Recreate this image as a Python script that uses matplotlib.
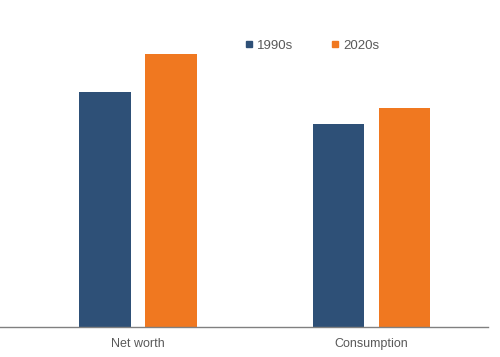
import matplotlib.pyplot as plt
from matplotlib.lines import Line2D
import numpy as np

plt.rcParams["font.family"] = ["Liberation Sans", "DejaVu Sans"]

# values (arbitrary units, no y axis shown)
categories = ["Net worth", "Consumption"]
series_names = ["1990s", "2020s"]
values_1990s = [235, 203]
values_2020s = [273, 219]
colors = ["#2E5077", "#F07820"]

fig = plt.figure(figsize=(5, 3.57), dpi=100)
ax = fig.add_axes([0.0, 30 / 357, 488 / 500, 300 / 357])

x = np.arange(len(categories))
offset = 0.141
width = 0.222
ax.bar(x - offset, values_1990s, width, color=colors[0], label=series_names[0])
ax.bar(x + offset, values_2020s, width, color=colors[1], label=series_names[1])

ax.set_xlim(-0.588, 1.498)
ax.set_ylim(0, 300)
ax.set_xticks(x)
ax.set_xticklabels(categories, fontsize=9, color="#595959")
ax.tick_params(axis="x", length=0, pad=8)
ax.set_yticks([])
for side in ["top", "right", "left"]:
    ax.spines[side].set_visible(False)
ax.spines["bottom"].set_color("#808080")
ax.spines["bottom"].set_linewidth(1)

handles = [Line2D([], [], marker="s", linestyle="", markersize=5, color=c) for c in colors]
fig.legend(handles, series_names, loc="center left", bbox_to_anchor=(245 / 500, 1 - 45.5 / 357),
           ncol=2, frameon=False, fontsize=9.5, labelcolor="#595959",
           handlelength=0.6, handletextpad=0.3, columnspacing=2.9, borderpad=0, borderaxespad=0)

fig.savefig("out.png", dpi=100)
